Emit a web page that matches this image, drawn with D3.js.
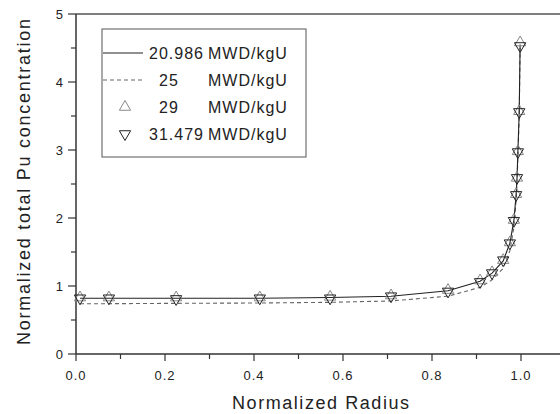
<!DOCTYPE html>
<html><head><meta charset="utf-8">
<script src="https://cdn.jsdelivr.net/npm/d3@7"></script>
<style>body{margin:0;background:#fff}svg{display:block}text{font-family:"Liberation Sans",Arial,sans-serif}</style>
</head><body><svg id="c" width="560" height="414"></svg>
<script>
const xs = [0.009,0.074,0.225,0.413,0.571,0.708,0.836,0.908,0.935,0.96,0.975,0.984,0.989,0.991,0.993,0.996,0.998];
const s20986 = [0.82,0.82,0.82,0.82,0.83,0.85,0.93,1.07,1.19,1.37,1.63,1.96,2.34,2.58,2.97,3.56,4.55];
const s25    = [0.74,0.74,0.745,0.75,0.76,0.78,0.85,0.98,1.09,1.26,1.52,1.86,2.25,2.50,2.90,3.50,4.50];
const s29    = [0.83,0.83,0.83,0.83,0.84,0.86,0.94,1.08,1.20,1.38,1.64,1.97,2.35,2.59,2.98,3.57,4.58];
const s31479 = [0.82,0.82,0.81,0.82,0.82,0.85,0.92,1.06,1.19,1.38,1.63,1.96,2.34,2.59,2.97,3.56,4.53];
const xTicks = [0,0.2,0.4,0.6,0.8,1.0];
const yTicks = [0,1,2,3,4,5];
const legendNums = ["20.986","25","29","31.479"];
const legendUnit = "MWD/kgU";

const svg = d3.select("#c");
const x = d3.scaleLinear().domain([0,1]).range([76,521]);
const y = d3.scaleLinear().domain([0,5]).range([354,14]);
const axCol = "#333";

// frame top
svg.append("line").attr("x1",76).attr("x2",560).attr("y1",y(5)).attr("y2",y(5)).attr("stroke","#555").attr("stroke-width",1.5);

// x axis
const gx = svg.append("g").attr("transform","translate(0,354)");
gx.append("line").attr("x1",76).attr("x2",560).attr("stroke",axCol).attr("stroke-width",1.5);
const xMinor = d3.range(0,1.11,0.1).filter(v=>Math.abs(Math.round(v*5)-v*5)>0.01);
gx.selectAll(".xm").data(xMinor).join("line").attr("x1",d=>x(d)).attr("x2",d=>x(d)).attr("y1",0).attr("y2",5).attr("stroke",axCol).attr("stroke-width",1.2);
gx.selectAll(".xM").data(xTicks).join("line").attr("x1",d=>x(d)).attr("x2",d=>x(d)).attr("y1",0).attr("y2",7).attr("stroke",axCol).attr("stroke-width",1.2);
gx.selectAll(".xl").data(xTicks).join("text").attr("x",d=>x(d)).attr("y",25.5).attr("text-anchor","middle")
  .attr("font-size",13).attr("letter-spacing",1).attr("fill","#222").text(d=>d.toFixed(1));

// y axis
const gy = svg.append("g");
gy.append("line").attr("x1",76).attr("x2",76).attr("y1",y(0)).attr("y2",y(5)).attr("stroke",axCol).attr("stroke-width",1.5);
const yMinor = d3.range(0.5,5,1);
gy.selectAll(".ym").data(yMinor).join("line").attr("x1",71).attr("x2",76).attr("y1",d=>y(d)).attr("y2",d=>y(d)).attr("stroke",axCol).attr("stroke-width",1.2);
gy.selectAll(".yM").data(yTicks).join("line").attr("x1",68).attr("x2",76).attr("y1",d=>y(d)).attr("y2",d=>y(d)).attr("stroke",axCol).attr("stroke-width",1.2);
gy.selectAll(".yl").data(yTicks).join("text").attr("x",63).attr("y",d=>y(d)+4.5).attr("text-anchor","end")
  .attr("font-size",13).attr("fill","#222").text(d=>d);

// titles
svg.append("text").attr("x",232).attr("y",409).attr("font-size",18).attr("textLength",177).attr("lengthAdjust","spacing").attr("fill","#222").text("Normalized Radius");
svg.append("text").attr("transform","translate(30,345) rotate(-90)").attr("font-size",18).attr("textLength",326).attr("lengthAdjust","spacing").attr("fill","#222").text("Normalized total Pu concentration");

// lines
const line = d3.line().x((d,i)=>x(xs[i])).y(d=>y(d));
svg.append("path").datum(s25).attr("d",line).attr("fill","none").attr("stroke","#666").attr("stroke-width",1.1).attr("stroke-dasharray","4,3");
svg.append("path").datum(s20986).attr("d",line).attr("fill","none").attr("stroke","#222").attr("stroke-width",1.1);

const up = d3.symbol().type(d3.symbolTriangle).size(55);
svg.selectAll(".up").data(s29).join("path").attr("d",up).attr("transform",(d,i)=>`translate(${x(xs[i])},${y(d)})`)
  .attr("fill","none").attr("stroke","#888").attr("stroke-width",1);
svg.selectAll(".dn").data(s31479).join("path").attr("d",up).attr("transform",(d,i)=>`translate(${x(xs[i])},${y(d)}) rotate(180)`)
  .attr("fill","none").attr("stroke","#222").attr("stroke-width",1);

// legend
const lg = svg.append("g");
lg.append("rect").attr("x",102).attr("y",29).attr("width",204).attr("height",128).attr("fill","#fff").attr("stroke","#555").attr("stroke-width",1);
const rowsY = [53,80,107,134];
lg.append("line").attr("x1",103).attr("x2",143).attr("y1",rowsY[0]).attr("y2",rowsY[0]).attr("stroke","#222").attr("stroke-width",1.1);
lg.append("line").attr("x1",103).attr("x2",143).attr("y1",rowsY[1]).attr("y2",rowsY[1]).attr("stroke","#666").attr("stroke-width",1.1).attr("stroke-dasharray","4,3");
lg.append("path").attr("d",up).attr("transform",`translate(125,${rowsY[2]})`).attr("fill","none").attr("stroke","#888");
lg.append("path").attr("d",up).attr("transform",`translate(125,${rowsY[3]}) rotate(180)`).attr("fill","none").attr("stroke","#222");
const numX = [149,159,159,149];
lg.selectAll(".ln").data(legendNums).join("text").attr("x",(d,i)=>numX[i]).attr("y",(d,i)=>rowsY[i]+6)
  .attr("font-size",16).attr("letter-spacing",1).attr("fill","#222").text(d=>d);
lg.selectAll(".lu").data(legendNums).join("text").attr("x",208).attr("y",(d,i)=>rowsY[i]+6)
  .attr("font-size",16).attr("letter-spacing",1).attr("fill","#222").text(legendUnit);
</script></body></html>
